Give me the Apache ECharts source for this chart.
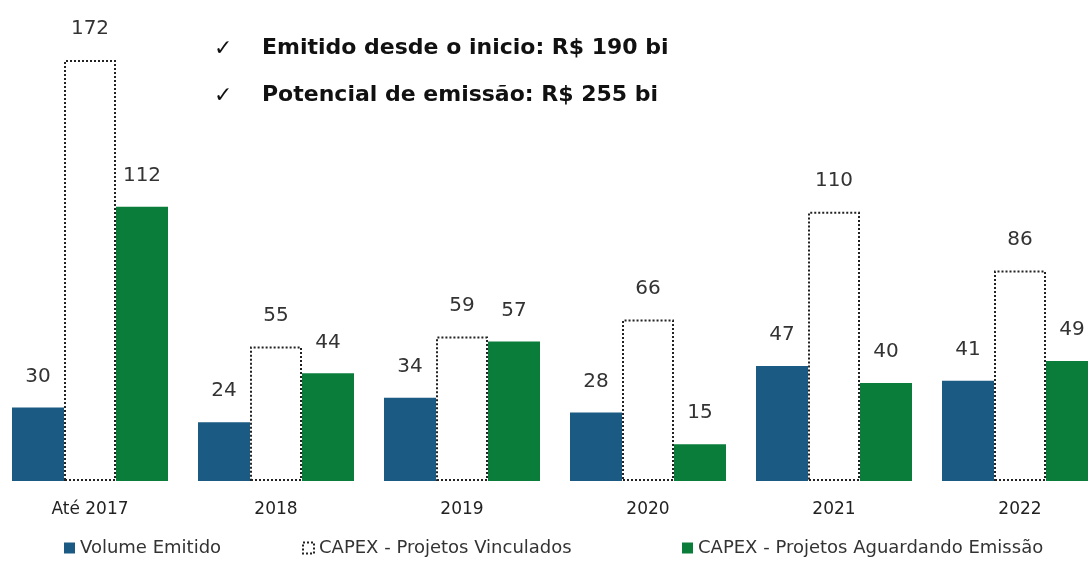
<!DOCTYPE html>
<html>
<head>
<meta charset="utf-8">
<script src="https://cdn.jsdelivr.net/npm/echarts@6/dist/echarts.min.js"></script>
<style>
  html, body { margin: 0; padding: 0; background: #fff; }
  #chart { width: 1088px; height: 563px; }
</style>
</head>
<body>
<div id="chart"></div>
<script>
// categorias e valores (R$ bi)
const categories = ['Até 2017', '2018', '2019', '2020', '2021', '2022']
const volumeEmitido = [30, 24, 34, 28, 47, 41]
const capexVinculados = [172, 55, 59, 66, 110, 86]
const capexAguardando = [112, 44, 57, 15, 40, 49]
const seriesNames = ['Volume Emitido', 'CAPEX - Projetos Vinculados', 'CAPEX - Projetos Aguardando Emissão']
const notes = ['Emitido desde o inicio: R$ 190 bi', 'Potencial de emissão: R$ 255 bi']

const font = 'DejaVu Sans'
const chart = echarts.init(document.getElementById('chart'))

const label = {
  show: true,
  position: 'top',
  distance: 21,
  color: '#333',
  fontFamily: font,
  fontSize: 20
}

// legenda separada em tres blocos, um para cada serie
const legendBase = {
  bottom: 1,
  itemWidth: 11,
  itemHeight: 11,
  itemGap: 4,
  icon: 'rect',
  textStyle: { color: '#333', fontFamily: font, fontSize: 18 }
}

const option = {
  backgroundColor: '#fff',
  animation: false,
  grid: { left: -3, right: -25, top: 60, bottom: 82, outerBoundsMode: 'none', containLabel: false },
  legend: [
    Object.assign({}, legendBase, { left: 59, data: [seriesNames[0]] }),
    Object.assign({}, legendBase, { left: 297, data: [{ name: seriesNames[1], itemStyle: { borderType: 'dotted', borderWidth: 2, borderColor: '#222' } }] }),
    Object.assign({}, legendBase, { left: 677, data: [seriesNames[2]] })
  ],
  xAxis: {
    type: 'category',
    data: categories,
    axisLine: { show: false },
    axisTick: { show: false },
    axisLabel: { color: '#222', fontFamily: font, fontSize: 17, margin: 20 }
  },
  yAxis: {
    type: 'value',
    min: 0,
    max: 172,
    show: false,
    splitLine: { show: false }
  },
  series: [
    {
      name: seriesNames[0],
      type: 'bar',
      barWidth: 52,
      barGap: '0%',
      data: volumeEmitido,
      itemStyle: { color: '#1b5a82' },
      label: label
    },
    {
      name: seriesNames[1],
      type: 'bar',
      barWidth: 52,
      barGap: '0%',
      data: capexVinculados,
      itemStyle: {
        color: '#fff',
        borderColor: '#222',
        borderWidth: 2,
        borderType: 'dotted'
      },
      label: label
    },
    {
      name: seriesNames[2],
      type: 'bar',
      barWidth: 52,
      barGap: '0%',
      data: capexAguardando,
      itemStyle: { color: '#0b7d3b' },
      label: label
    }
  ],
  graphic: [
    { type: 'text', left: 214, top: 38, style: { text: '✓', fontSize: 22, fill: '#111', fontFamily: font } },
    { type: 'text', left: 214, top: 85, style: { text: '✓', fontSize: 22, fill: '#111', fontFamily: font } },
    { type: 'text', left: 262, top: 37, style: { text: notes[0], fontSize: 22, fontWeight: 'bold', fill: '#111', fontFamily: font } },
    { type: 'text', left: 262, top: 84, style: { text: notes[1], fontSize: 22, fontWeight: 'bold', fill: '#111', fontFamily: font } }
  ]
}

chart.setOption(option)
</script>
</body>
</html>
